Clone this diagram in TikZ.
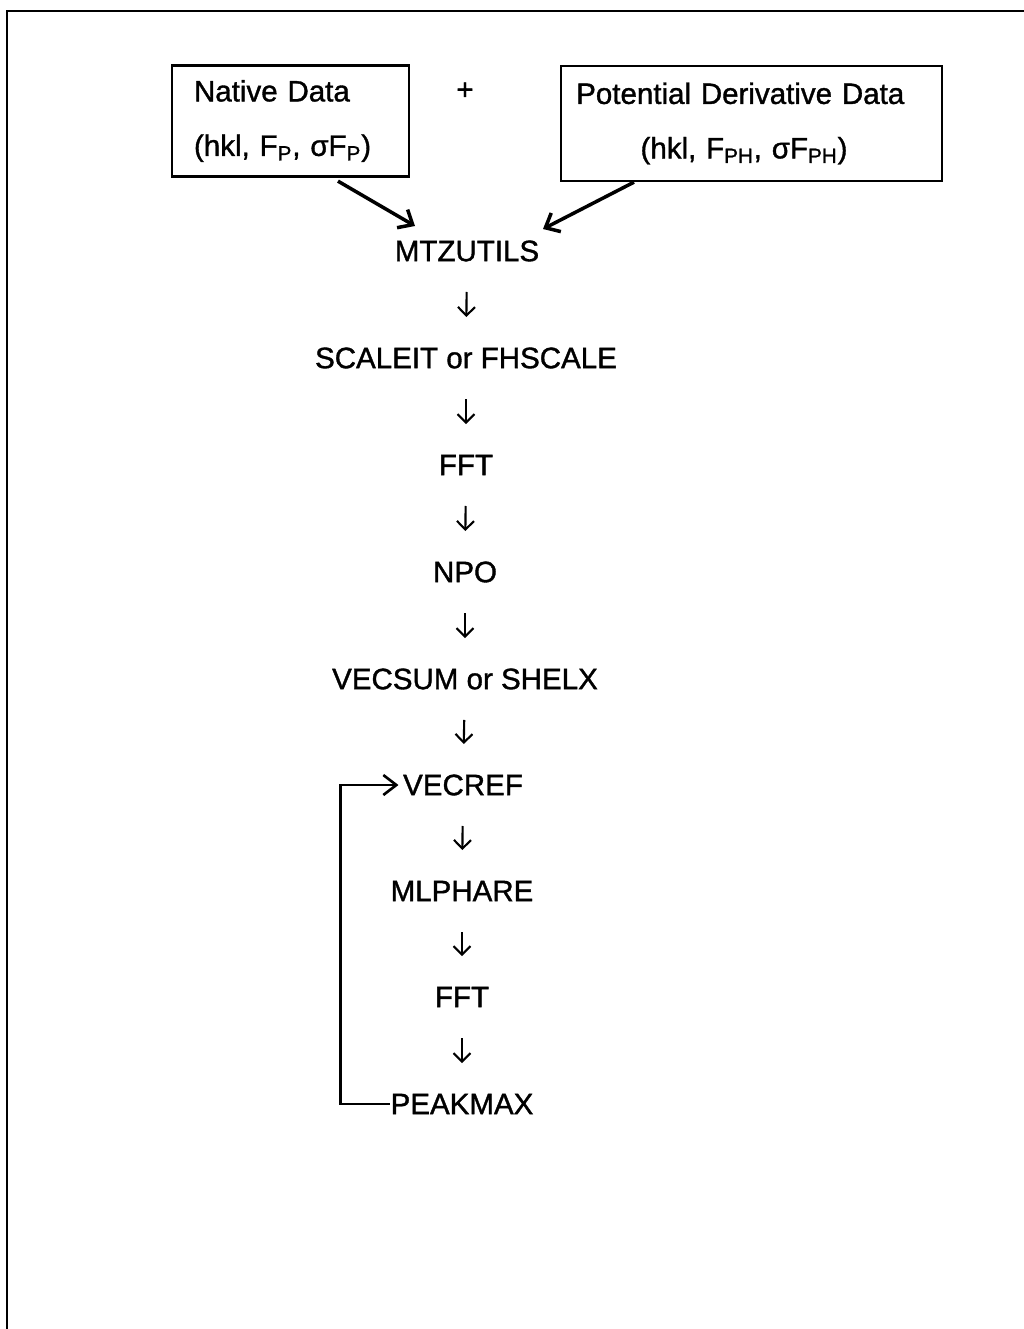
\documentclass[tikz,border=0pt]{standalone}
\usepackage{fontspec}
\setmainfont[FakeBold=1.2]{Liberation Sans}
\usetikzlibrary{arrows.meta}

\begin{document}
\begin{tikzpicture}[x=0.02cm,y=-0.02cm,line width=1.3pt,
  >={Straight Barb[length=1.7mm,width=3.4mm]},
  prog/.style={inner sep=0pt,font=\fontsize{16.8}{20}\selectfont},
  databox/.style={draw,line width=1.3pt,font=\fontsize{16.8}{31}\selectfont},
  down/.style={->,line width=1.2pt,shorten <=0.82cm,shorten >=0.82cm},
  feed/.style={-{Straight Barb[length=2.4mm,width=4.2mm]},line width=2pt},
  back/.style={-{Straight Barb[length=2.6mm,width=4mm]},line width=1.5pt}]
  \useasboundingbox (0,0) rectangle (1024,1329);
  % outer frame
  \draw[line width=1.7pt] (7,1329) -- (7,11) -- (1024,11);
  % input data sets
  \node[databox,text width=3.86cm,inner xsep=0.44cm,align=left,minimum height=2.22cm]
    (native) at (290.5,121) {Native Data\\(hkl, F\textsubscript{P}, σF\textsubscript{P})};
  \node[prog] (plus) at (465,91) {+};
  \node[databox,text width=7.3cm,inner xsep=0.16cm,align=center,minimum height=2.3cm]
    (deriv) at (751.5,123.5) {Potential Derivative Data\kern0.45cm\\(hkl, F\textsubscript{PH}, σF\textsubscript{PH})\kern0.3cm};
  % program chain
  \node[prog] (mtz) at (467,251) {MTZUTILS};
  \node[prog] (scale) at (466,358) {SCALEIT or FHSCALE};
  \node[prog] (fftA) at (466,465) {FFT};
  \node[prog] (npo) at (465,572) {NPO};
  \node[prog] (vecsum) at (465,679) {VECSUM or SHELX};
  \node[prog] (vecref) at (463,785) {VECREF};
  \node[prog] (mlphare) at (462,891) {MLPHARE};
  \node[prog] (fftB) at (462,997) {FFT};
  \node[prog] (peak) at (462,1104) {PEAKMAX};
  \foreach \a/\b in {mtz/scale,scale/fftA,fftA/npo,npo/vecsum,vecsum/vecref,
                     vecref/mlphare,mlphare/fftB,fftB/peak}
    \draw[down] (\a.center) -- (\b.center);
  % data into MTZUTILS
  \draw[feed] ([xshift=0.95cm,yshift=-2pt]native.south) -- ([shift={(-52,-25)}]mtz.center);
  \draw[feed] ([xshift=-2.35cm]deriv.south) -- ([shift={(76,-22)}]mtz.center);
  % refinement cycle
  \draw[back] (peak.west) -- ++(-49,0) |- ([xshift=-2pt]vecref.west);
\end{tikzpicture}
\end{document}
